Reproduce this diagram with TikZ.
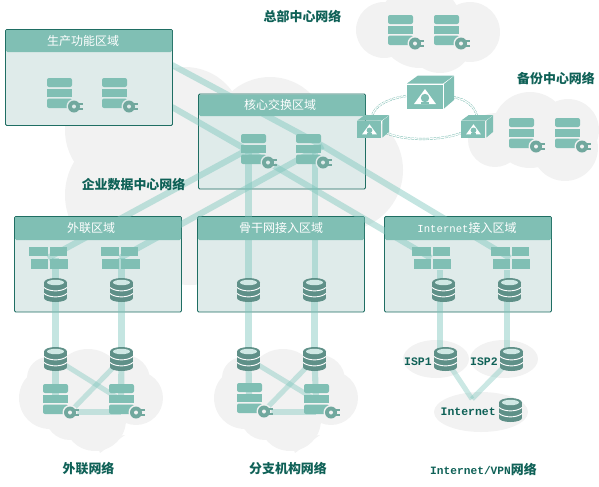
\documentclass[tikz,border=0pt]{standalone}
\usepackage{fontspec}
\setmainfont{Noto Sans CJK SC}
\newfontfamily\monof{Liberation Mono}
\definecolor{teal1}{HTML}{80BFB4}
\definecolor{teal2}{HTML}{5F9088}
\definecolor{pale}{HTML}{CFE8E4}
\definecolor{boxfill}{HTML}{DFEBEA}
\definecolor{boxline}{HTML}{1F6E63}
\definecolor{cloudc}{HTML}{F2F2F2}
\definecolor{bandc}{HTML}{7CC6BC}
\definecolor{labelc}{HTML}{0F6157}
\tikzset{
  x=0.75pt,y=-0.75pt,
  zonebox/.style={draw=boxline,line width=0.7pt,fill=boxfill,rounded corners=1pt},
  zonehead/.style={fill=teal1,rounded corners=1pt},
  band/.style={draw=bandc,line width=4.6pt,opacity=0.45},
  thinband/.style={draw=bandc,line width=3.8pt,opacity=0.4},
  ring/.style={draw=teal1,line width=0.35pt,double=white,double distance=0.9pt,dashed,dash pattern=on 2pt off 0.8pt},
  headtext/.style={text=white,font=\fontsize{9}{10}\selectfont,inner sep=0pt},
  nettext/.style={text=labelc,font=\fontsize{9.7}{11}\selectfont\bfseries,inner sep=0pt},
  monotext/.style={text=labelc,font=\fontsize{8.6}{10}\selectfont\monof\bfseries,inner sep=0pt},
  pics/serverpic/.style={code={
    \fill[teal1,rounded corners=1.5pt] (-12.5,-15) rectangle (12.5,-6);
    \fill[teal1] (-12.5,-4.5) rectangle (12.5,4);
    \fill[teal1,rounded corners=1.5pt] (-12.5,5.5) rectangle (12.5,15);
    \fill[#1] (14.5,13.5) circle (7.5);
    \fill[teal1!88!black] (14.5,13.5) circle (6);
    \fill[#1] (14.5,13.5) circle (2);
    \fill[teal1!88!black] (18.5,10) rectangle (23,12);
    \fill[teal1!88!black] (18.5,15) rectangle (23,17);
  }},
  pics/fwpic/.style={code={
    \fill[teal1] (-19.5,-11) rectangle (-1,-2);
    \fill[teal1] (1,-11) rectangle (18,-2);
    \fill[teal1] (-18,1) rectangle (-1,11);
    \fill[teal1] (1,1) rectangle (19.5,11);
  }},
  pics/dbpic/.style={code={
    \fill[teal2] (-11.5,-7.5) rectangle (11.5,8);
    \fill[teal2] (0,8) circle [x radius=11.5,y radius=4];
    \fill[teal2] (0,-7.5) circle [x radius=11.5,y radius=4.5];
    \fill[pale] (0,-7.5) circle [x radius=8.5,y radius=2.7];
    \draw[white,line width=0.7pt] (-11.5,-2.5) .. controls (-6,2) and (6,2) .. (11.5,-2.5);
    \draw[white,line width=0.7pt] (-11.5,3.5) .. controls (-6,8) and (6,8) .. (11.5,3.5);
  }},
  pics/cubepic/.style={code={
    \fill[teal1] (-18,-12.5) -- (-7,-20.5) -- (29,-20.5) -- (18,-12.5) -- cycle;
    \fill[teal1] (-18,-11.5) rectangle (17.5,12.5);
    \fill[teal1] (19,-12) -- (29,-20) -- (29,4) -- (19,12.5) -- cycle;
    \fill[white] (-11,8) -- (0,-7) -- (11,8) -- cycle;
    \fill[teal1] (0,2) circle (4.2);
    \fill[teal1] (-4,6) rectangle (4,8.2);
  }},
  pics/cloudbig/.style={code={
    \fill[cloudc] (50,398) circle (31) (48,378) circle (21) (88,385) circle (36)
      (125,380) circle (25) (136,398) circle (27) (95,420) circle (31) (70,415) circle (25);
    \fill[cloudc] (95,440) -- (125,435) -- (100,453) -- cycle;
  }},
}
\newcommand{\srv}[4]{\coordinate (#1) at (#2,#3); \pic at (#1) {serverpic=#4};}
\newcommand{\fw}[3]{\coordinate (#1) at (#2,#3); \pic at (#1) {fwpic};}
\begin{document}
\begin{tikzpicture}
\useasboundingbox (0,0) rectangle (599,486);
% clouds
\fill[cloudc] (125,130) circle (60) (185,125) circle (58) (270,135) circle (58)
  (342,170) circle (61) (130,195) circle (65) (190,220) circle (65) (300,220) circle (62);
\fill[cloudc] (384,30) circle (28) (420,26) circle (42) (470,32) circle (30) (440,40) circle (33);
\fill[cloudc] (495,140) circle (27) (530,130) circle (38) (568,130) circle (31) (565,148) circle (33);
\pic at (0,0) {cloudbig};
\pic at (195,0) {cloudbig};
\fill[cloudc] (436,359) circle [x radius=33,y radius=19];
\fill[cloudc] (504,359) circle [x radius=34,y radius=19];
\fill[cloudc] (481,412) circle [x radius=47,y radius=20];
% named device positions
\coordinate (prodA) at (172,65);
\coordinate (prodB) at (172,107);
\coordinate (coreA) at (247,150);
\coordinate (coreB) at (323,146);
\coordinate (coreV) at (315,150);
\coordinate (fwA1) at (48,258); \coordinate (fwA2) at (120,258);
\coordinate (fwC1) at (431,258); \coordinate (fwC2) at (510,258);
\coordinate (dbA1) at (55.5,290); \coordinate (dbA2) at (121.5,290);
\coordinate (dbB1) at (248.5,290); \coordinate (dbB2) at (314.5,290);
\coordinate (dbC1) at (443.5,290); \coordinate (dbC2) at (509.5,290);
\coordinate (loA1) at (55.5,359); \coordinate (loA2) at (121.5,359);
\coordinate (loB1) at (248.5,359); \coordinate (loB2) at (314.5,359);
\coordinate (isp1) at (445.5,359); \coordinate (isp2) at (511.5,359);
\coordinate (inet) at (510.5,410);
\coordinate (vee) at (472,399);
\coordinate (plugA1) at (70,412); \coordinate (srvA2) at (121,400);
\coordinate (plugB1) at (263,412); \coordinate (srvB2) at (316,400);
\coordinate (srvA1) at (55.5,400); \coordinate (srvB1) at (249,398);
\coordinate (isT1) at (440,270); \coordinate (isB1) at (440,350);
\coordinate (isT2) at (507,270); \coordinate (isB2) at (507,350);
% zone boxes
\draw[zonebox] (198.5,94) rectangle (365.5,189);
\draw[zonebox] (14.5,216.5) rectangle (181.5,312);
\draw[zonebox] (197.5,216.5) rectangle (364.5,312);
\draw[zonebox] (384.5,216.5) rectangle (551.5,312);
% connectors
\draw[band] (prodA) -- (coreB);
\draw[band] (prodB) -- (coreA);
\draw[band] (coreA) -- (fwC1);
\draw[band] (coreB) -- (fwC2);
\draw[band] (coreA) -- (fwA1);
\draw[band] (coreB) -- (fwA2);
\draw[band] (dbB1 |- coreA) -- (dbB1);
\draw[band] (coreV) -- (coreV |- dbB2);
\draw[band] (dbB1) -- (loB1);
\draw[band] (dbB2) -- (loB2);
\draw[band] (dbA1 |- fwA1) -- (loA1);
\draw[band] (dbA2 |- fwA2) -- (loA2);
\draw[band] (isT1) -- (isB1);
\draw[band] (isT2) -- (isB2);
\draw[band] (loA1) -- (srvA1);
\draw[band] (loA2) -- (srvA2);
\draw[band] (loB1) -- (srvB1);
\draw[band] (loB2) -- (srvB2);
\draw[thinband] (loA1) -- (srvA2);
\draw[thinband] (loA2) -- (plugA1);
\draw[thinband] (plugA1) -- (srvA2 |- plugA1);
\draw[thinband] (loB1) -- (srvB2);
\draw[thinband] (loB2) -- (plugB1);
\draw[thinband] (plugB1) -- (srvB2 |- plugB1);
\draw[thinband] (isp1) -- (vee);
\draw[thinband] (isp2) -- (vee);
% production box over its connectors
\draw[zonebox] (5.5,29.5) rectangle (172.5,125.5);
% headers
\fill[zonehead] (6,30) rectangle (172,52);
\fill[zonehead] (199,94.5) rectangle (365,116);
\fill[zonehead] (15,217) rectangle (181,240);
\fill[zonehead] (198,217) rectangle (364,240);
\fill[zonehead] (385,217) rectangle (551,240);
\node[headtext] (tprod) at (83,41) {生产功能区域};
\node[headtext] (tcore) at (280,105) {核心交换区域};
\node[headtext] (text1) at (91,228) {外联区域};
\node[headtext] (tbone) at (281,228) {骨干网接入区域};
\node[headtext] (tinet) at (467,228) {{\monof\fontsize{8}{10}\selectfont Internet}接入区域};
% devices
\srv{sP1}{59.5}{93}{boxfill} \srv{sP2}{114.5}{93}{boxfill}
\srv{sC1}{253.5}{149}{boxfill} \srv{sC2}{308.5}{149}{boxfill}
\srv{sH1}{400.5}{30}{cloudc} \srv{sH2}{446.5}{30}{cloudc}
\srv{sB1}{521.5}{133}{cloudc} \srv{sB2}{567.5}{133}{cloudc}
\srv{sA1}{55.5}{399}{cloudc} \srv{sA2}{121.5}{399}{cloudc}
\srv{sB3}{249.5}{398}{cloudc} \srv{sB4}{316.5}{399}{cloudc}
\fw{fA1}{48.5}{258} \fw{fA2}{120}{258}
\fw{fC1}{431.5}{258} \fw{fC2}{510.5}{258}
\pic at (dbA1) {dbpic}; \pic at (dbA2) {dbpic};
\pic at (dbB1) {dbpic}; \pic at (dbB2) {dbpic};
\pic at (dbC1) {dbpic}; \pic at (dbC2) {dbpic};
\pic at (loA1) {dbpic}; \pic at (loA2) {dbpic};
\pic at (loB1) {dbpic}; \pic at (loB2) {dbpic};
\pic at (isp1) {dbpic}; \pic at (isp2) {dbpic};
\pic at (inet) {dbpic};
% ring of cubes
\coordinate (cubeT) at (425,96);
\coordinate (cubeL) at (369.5,129);
\coordinate (cubeR) at (473.5,129);
\draw[ring] (406,96) .. controls (388,99) and (375,105) .. (372,116);
\draw[ring] (453,97) .. controls (465,99) and (474,105) .. (477,116);
\draw[ring] (386,133) .. controls (405,141) and (440,141) .. (461,133);
\pic at (cubeT) {cubepic};
\pic[scale=0.68] at (cubeL) {cubepic};
\pic[scale=0.68] at (cubeR) {cubepic};
% labels
\node[nettext] (nHQ) at (302.5,16) {总部中心网络};
\node[nettext] (nBK) at (556,79) {备份中心网络};
\node[nettext] (nDC) at (133.5,185) {企业数据中心网络};
\node[nettext] (nEX) at (88.5,469) {外联网络};
\node[nettext] (nBR) at (288,469) {分支机构网络};
\node[monotext,anchor=east] (nI1) at (432,362) {ISP1};
\node[monotext,anchor=east] (nI2) at (498,362) {ISP2};
\node[monotext,anchor=east] (nIN) at (496,412) {Internet};
\node[text=labelc,inner sep=0pt] (nVP) at (483.5,469) {{\monof\bfseries\fontsize{8.4}{10}\selectfont Internet/VPN}{\fontsize{9.7}{11}\selectfont\bfseries 网络}};
\end{tikzpicture}
\end{document}
